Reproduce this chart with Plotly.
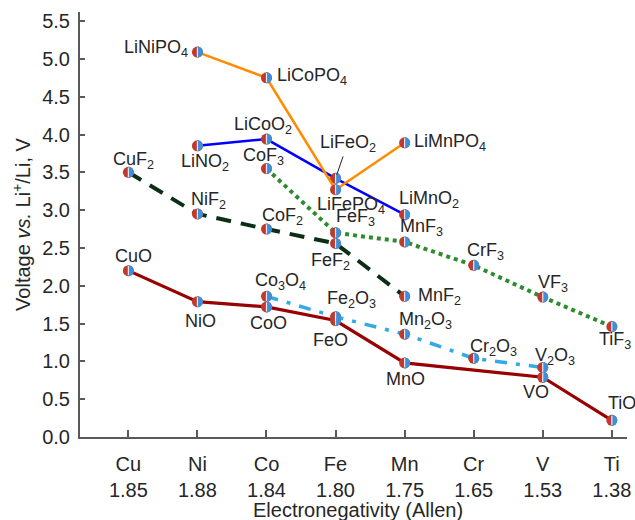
import plotly.graph_objects as go

# ---- data -------------------------------------------------------------
elements = ["Cu", "Ni", "Co", "Fe", "Mn", "Cr", "V", "Ti"]
electronegativity = ["1.85", "1.88", "1.84", "1.80", "1.75", "1.65", "1.53", "1.38"]

mo_names = ["CuO", "NiO", "CoO", "FeO", "MnO", "VO", "TiO"]
mo_metal = ["Cu", "Ni", "Co", "Fe", "Mn", "V", "Ti"]
mo_volt = [2.20, 1.79, 1.72, 1.54, 0.98, 0.79, 0.22]

m2o3_names = ["Co<sub>3</sub>O<sub>4</sub>", "Fe<sub>2</sub>O<sub>3</sub>", "Mn<sub>2</sub>O<sub>3</sub>",
              "Cr<sub>2</sub>O<sub>3</sub>", "V<sub>2</sub>O<sub>3</sub>"]
m2o3_metal = ["Co", "Fe", "Mn", "Cr", "V"]
m2o3_volt = [1.86, 1.59, 1.36, 1.04, 0.92]

mf2_names = ["CuF<sub>2</sub>", "NiF<sub>2</sub>", "CoF<sub>2</sub>", "FeF<sub>2</sub>", "MnF<sub>2</sub>"]
mf2_metal = ["Cu", "Ni", "Co", "Fe", "Mn"]
mf2_volt = [3.50, 2.95, 2.75, 2.56, 1.86]

mf3_names = ["CoF<sub>3</sub>", "FeF<sub>3</sub>", "MnF<sub>3</sub>", "CrF<sub>3</sub>", "VF<sub>3</sub>", "TiF<sub>3</sub>"]
mf3_metal = ["Co", "Fe", "Mn", "Cr", "V", "Ti"]
mf3_volt = [3.55, 2.70, 2.58, 2.27, 1.85, 1.46]

limo2_names = ["LiNO<sub>2</sub>", "LiCoO<sub>2</sub>", "LiFeO<sub>2</sub>", "LiMnO<sub>2</sub>"]
limo2_metal = ["Ni", "Co", "Fe", "Mn"]
limo2_volt = [3.85, 3.94, 3.42, 2.94]

limpo4_names = ["LiNiPO<sub>4</sub>", "LiCoPO<sub>4</sub>", "LiFePO<sub>4</sub>", "LiMnPO<sub>4</sub>"]
limpo4_metal = ["Ni", "Co", "Fe", "Mn"]
limpo4_volt = [5.09, 4.75, 3.27, 3.89]

x_title = "Electronegativity (Allen)"
y_title = "Voltage <i>vs.</i> Li<sup>+</sup>/Li, V"

# ---- label placement (pixel offsets from the point: right, down) ------
label_offset = {
    "CuO": (5, -15), "NiO": (3, 19), "CoO": (2, 16), "FeO": (-5, 19), "MnO": (1, 16),
    "VO": (-7, 15), "TiO": (10, -17),
    "Co<sub>3</sub>O<sub>4</sub>": (14, -15), "Fe<sub>2</sub>O<sub>3</sub>": (16, -17),
    "Mn<sub>2</sub>O<sub>3</sub>": (21, -14), "Cr<sub>2</sub>O<sub>3</sub>": (20, -11),
    "V<sub>2</sub>O<sub>3</sub>": (12, -11),
    "CuF<sub>2</sub>": (5, -12), "NiF<sub>2</sub>": (11, -13), "CoF<sub>2</sub>": (16, -13),
    "FeF<sub>2</sub>": (-5, 18), "MnF<sub>2</sub>": (35, 0),
    "CoF<sub>3</sub>": (-3, -12), "FeF<sub>3</sub>": (20, -15), "MnF<sub>3</sub>": (17, -14),
    "CrF<sub>3</sub>": (12, -14), "VF<sub>3</sub>": (10, -14), "TiF<sub>3</sub>": (3, 14),
    "LiNO<sub>2</sub>": (8, 17), "LiCoO<sub>2</sub>": (-3, -14), "LiMnO<sub>2</sub>": (24, -15),
    "LiNiPO<sub>4</sub>": (-41, -4), "LiCoPO<sub>4</sub>": (46, -1), "LiFePO<sub>4</sub>": (15, 16),
    "LiMnPO<sub>4</sub>": (45, 0),
}
# label drawn with a leader line to its point
leader_offset = {"LiFeO<sub>2</sub>": (12, -35)}

# ---- styles -----------------------------------------------------------
FONT = "Liberation Sans, Arial, sans-serif"
TEXT = "#262626"
AXIS = "#5a5a5a"
HALF_LEFT = "#BE3A2C"
HALF_RIGHT = "#3E8FD9"
R = 5.5
K = 0.5523 * R  # cubic control distance for a quarter circle

series = [
    (mo_names, mo_metal, mo_volt, dict(color="#990000", width=3.2)),
    (m2o3_names, m2o3_metal, m2o3_volt, dict(color="#33A9E6", width=3.5, dash="12px,9px,4px,9px")),
    (mf2_names, mf2_metal, mf2_volt, dict(color="#0B2E14", width=4, dash="15px,10px")),
    (mf3_names, mf3_metal, mf3_volt, dict(color="#2E8B2E", width=4, dash="4px,4px")),
    (limo2_names, limo2_metal, limo2_volt, dict(color="#0000FF", width=2.5)),
    (limpo4_names, limpo4_metal, limpo4_volt, dict(color="#FF8C00", width=2.5)),
]

pos = {m: i for i, m in enumerate(elements)}

# right half of the two-tone marker (two cubic quarter arcs)
RIGHT_HALF = (f"M0,{-R} C{K},{-R} {R},{-K} {R},0 "
              f"C{R},{K} {K},{R} 0,{R} Z")
STRIPE = f"M0,{-R + 0.8} L0,{R - 0.8}"

fig = go.Figure()
shapes = []
annotations = []

for names, metals, volts, line in series:
    xs = [pos[m] for m in metals]
    fig.add_trace(go.Scatter(
        x=xs, y=volts, mode="lines+markers", line=line,
        marker=dict(symbol="circle", size=2 * R, color=HALF_LEFT, line=dict(width=0)),
        hoverinfo="skip", showlegend=False,
    ))
    for name, x, v in zip(names, xs, volts):
        shapes.append(dict(
            type="path", xref="x", yref="y", xsizemode="pixel", ysizemode="pixel",
            xanchor=x, yanchor=v, layer="above", path=RIGHT_HALF,
            fillcolor=HALF_RIGHT, line=dict(width=0),
        ))
        shapes.append(dict(
            type="path", xref="x", yref="y", xsizemode="pixel", ysizemode="pixel",
            xanchor=x, yanchor=v, layer="above", path=STRIPE,
            line=dict(color="rgba(255,255,255,0.85)", width=1.2),
        ))
        if name in label_offset:
            dx, dy = label_offset[name]
            annotations.append(dict(
                x=x, y=v, xref="x", yref="y", text=name, showarrow=False,
                xshift=dx, yshift=-dy, xanchor="center", yanchor="middle",
                font=dict(family=FONT, size=18, color=TEXT),
            ))
        elif name in leader_offset:
            ax, ay = leader_offset[name]
            annotations.append(dict(
                x=x, y=v, xref="x", yref="y", text=name, showarrow=True,
                ax=ax, ay=ay, arrowhead=0, arrowwidth=1, arrowcolor="#222222",
                standoff=4, startstandoff=0,
                font=dict(family=FONT, size=18, color=TEXT),
            ))

# x-axis title, placed below the two-line tick labels
annotations.append(dict(
    x=0.5, y=0, xref="paper", yref="paper", text=x_title, showarrow=False,
    xanchor="center", yanchor="middle", xshift=4, yshift=-73,
    font=dict(family=FONT, size=20, color=TEXT),
))

fig.update_layout(
    width=635, height=520,
    margin=dict(l=80, r=8, t=12, b=83, autoexpand=False),
    paper_bgcolor="white", plot_bgcolor="white",
    font=dict(family=FONT, size=20, color=TEXT),
    shapes=shapes, annotations=annotations,
    xaxis=dict(
        range=[-0.70, 7.22], tickmode="array", automargin=False,
        tickvals=list(range(len(elements))),
        ticktext=[f"{e}<br>{n}" for e, n in zip(elements, electronegativity)],
        ticks="inside", ticklen=7, tickwidth=1.5, tickcolor=AXIS,
        showline=True, linecolor=AXIS, linewidth=2, showgrid=False, zeroline=False,
        tickfont=dict(size=20, color=TEXT), ticklabelstandoff=8,
    ),
    yaxis=dict(
        range=[0, 5.62], tickmode="array", automargin=False,
        tickvals=[0, 0.5, 1, 1.5, 2, 2.5, 3, 3.5, 4, 4.5, 5, 5.5],
        ticktext=["0.0", "0.5", "1.0", "1.5", "2.0", "2.5", "3.0", "3.5", "4.0", "4.5", "5.0", "5.5"],
        ticks="inside", ticklen=5, tickwidth=1.5, tickcolor=AXIS,
        showline=True, linecolor=AXIS, linewidth=2, showgrid=False, zeroline=False,
        tickfont=dict(size=20, color=TEXT), ticklabelstandoff=4,
        title=dict(text=y_title, font=dict(size=20, color=TEXT), standoff=6),
    ),
)

fig.write_html("out.html")
